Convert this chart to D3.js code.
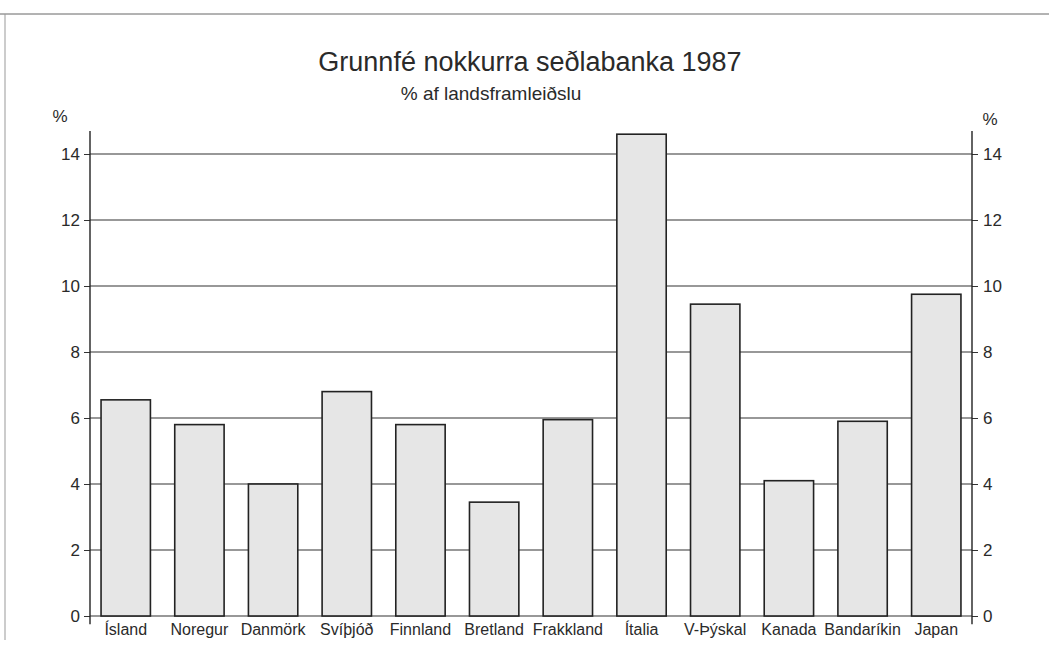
<!DOCTYPE html>
<html>
<head>
<meta charset="utf-8">
<script src="https://cdn.jsdelivr.net/npm/d3@7"></script>
<style>
  body { margin: 0; background: #fff; }
  svg text { font-family: "Liberation Sans", Arial, sans-serif; fill: #2a2a2a; }
</style>
</head>
<body>
<div id="display"></div>
<script>
// data
var countries = ["Ísland", "Noregur", "Danmörk", "Svíþjóð", "Finnland", "Bretland",
                 "Frakkland", "Ítalia", "V-Þýskal", "Kanada", "Bandaríkin", "Japan"];
var values = [6.55, 5.8, 4.0, 6.8, 5.8, 3.45, 5.95, 14.6, 9.45, 4.1, 5.9, 9.75];
var yTicks = [0, 2, 4, 6, 8, 10, 12, 14];

var W = 1049, H = 658;
var margin = {top: 154, right: 77, bottom: 42, left: 90},
    width = W - margin.left - margin.right,
    height = H - margin.top - margin.bottom;

var svg = d3.select("#display").append("svg")
    .attr("width", W).attr("height", H);

// scan frame
svg.append("line").attr("x1", 0).attr("x2", W).attr("y1", 14).attr("y2", 14)
  .attr("stroke", "#666").attr("stroke-width", 1);
svg.append("line").attr("x1", 5).attr("x2", 5).attr("y1", 14).attr("y2", 640)
  .attr("stroke", "#999").attr("stroke-width", 1);

// titles
svg.append("text").attr("x", 530).attr("y", 71).attr("text-anchor", "middle")
  .style("font-size", "27px").text("Grunnfé nokkurra seðlabanka 1987");
svg.append("text").attr("x", 491).attr("y", 100).attr("text-anchor", "middle")
  .style("font-size", "19px").text("% af landsframleiðslu");
svg.append("text").attr("x", 60).attr("y", 122).attr("text-anchor", "middle")
  .style("font-size", "17px").attr("fill", "#555").text("%");
svg.append("text").attr("x", 990).attr("y", 125).attr("text-anchor", "middle")
  .style("font-size", "17px").text("%");

var g = svg.append("g").attr("transform", "translate(" + margin.left + "," + margin.top + ")");

var x = d3.scaleBand().domain(countries).range([0, width])
    .paddingInner(0.33).paddingOuter(0.15);
var y = d3.scaleLinear().domain([0, 14]).range([height, 0]);

// gridlines
g.append("g")
  .selectAll("line")
  .data(yTicks)
  .enter().append("line")
    .attr("x1", 0).attr("x2", width)
    .attr("y1", function(d){ return y(d) }).attr("y2", function(d){ return y(d) })
    .attr("stroke", "#333").attr("stroke-width", 1.1);

// bars
g.selectAll(".bar")
  .data(values)
  .enter().append("rect")
    .attr("class", "bar")
    .attr("x", function(d, i){ return x(countries[i]) })
    .attr("y", function(d){ return y(d) })
    .attr("width", x.bandwidth())
    .attr("height", function(d){ return height - y(d) })
    .attr("fill", "#e6e6e6")
    .attr("stroke", "#222").attr("stroke-width", 1.6);

// axes
var left = g.append("g")
  .call(d3.axisLeft(y).tickValues(yTicks).tickSize(6).tickPadding(4));
var right = g.append("g").attr("transform", "translate(" + width + ",0)")
  .call(d3.axisRight(y).tickValues(yTicks).tickSize(6).tickPadding(5));
[left, right].forEach(function(a){
  a.select(".domain").remove();
  a.selectAll("text").style("font-size", "17px").attr("fill", "#444")
    .style("font-family", "Liberation Sans, Arial, sans-serif");
  a.selectAll(".tick line").attr("stroke", "#333");
  a.append("line").attr("x1", 0).attr("x2", 0)
    .attr("y1", y(14.7)).attr("y2", y(-0.25))
    .attr("stroke", "#222").attr("stroke-width", 1.4);
});

// category labels
g.append("g").attr("transform", "translate(0," + height + ")")
  .call(d3.axisBottom(x).tickSize(0).tickPadding(8))
  .call(function(s){
    s.select(".domain").remove();
    s.selectAll("text").style("font-size", "16px").attr("fill", "#2a2a2a")
      .style("font-family", "Liberation Sans, Arial, sans-serif");
  });
</script>
</body>
</html>
